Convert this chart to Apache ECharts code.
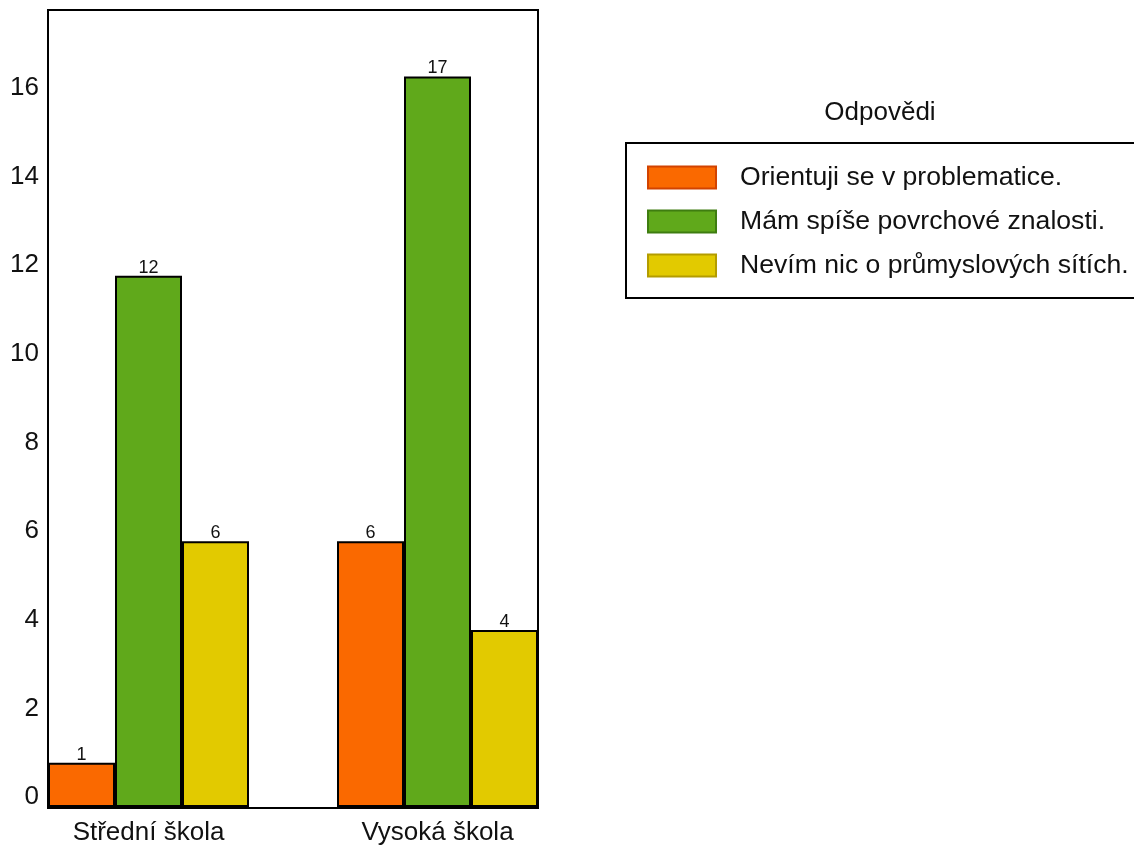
<!DOCTYPE html>
<html>
<head>
<meta charset="utf-8">
<script src="https://cdn.jsdelivr.net/npm/echarts@6/dist/echarts.min.js"></script>
<style>html,body{margin:0;padding:0;background:#fff}#c{width:1134px;height:846px}</style>
</head>
<body>
<div id="c"></div>
<script>
const categories = ['Střední škola', 'Vysoká škola'];
const seriesNames = ['Orientuji se v problematice.', 'Mám spíše povrchové znalosti.', 'Nevím nic o průmyslových sítích.'];
const orientuji = [1, 6];
const povrchove = [12, 16.5];
const nevim = [6, 4];
const orientujiLabels = ['1', '6'];
const povrchoveLabels = ['12', '17'];
const nevimLabels = ['6', '4'];
const legendTitle = 'Odpovědi';
const yMin = 0, yMax = 18, yStep = 2;

const colors = ['#FA6900', '#60A91B', '#E2CA00'];
const legendBorders = ['#D24300', '#3E7D10', '#B39C00'];
const FONT = '"Liberation Sans", Arial, sans-serif';

const valueSets = [orientuji, povrchove, nevim];
const labelSets = [orientujiLabels, povrchoveLabels, nevimLabels];

const chart = echarts.init(document.getElementById('c'), null, {renderer: 'canvas'});
chart.setOption({
  animation: false,
  backgroundColor: '#fff',
  textStyle: {fontFamily: FONT},
  title: {
    text: legendTitle, left: 880, top: 100, textAlign: 'center', padding: 0,
    textStyle: {fontSize: 26, fontWeight: 'normal', color: '#111', fontFamily: FONT}
  },
  legend: {
    orient: 'vertical', left: 626, top: 143,
    padding: [21, 40, 19, 21],
    borderColor: '#000', borderWidth: 2,
    itemWidth: 68, itemHeight: 22, itemGap: 17,
    icon: 'rect',
    textStyle: {fontSize: 26.6, color: '#111', lineHeight: 22, padding: [0, 0, 0, 19], fontFamily: FONT},
    data: seriesNames.map((n, i) => ({name: n, itemStyle: {color: colors[i], borderColor: legendBorders[i], borderWidth: 2}}))
  },
  grid: [
    {left: 4, width: 578, top: 10, height: 798, show: false},
    {left: 48, width: 490, top: 10, height: 798, show: true, borderColor: '#000', borderWidth: 2, backgroundColor: 'transparent'}
  ],
  xAxis: [
    {
      type: 'category', gridIndex: 0, data: categories,
      axisLine: {show: false}, axisTick: {show: false},
      axisLabel: {fontSize: 26, color: '#111', margin: 13, fontFamily: FONT}
    },
    {type: 'value', gridIndex: 1, show: false, min: 0, max: 1}
  ],
  yAxis: [
    {type: 'value', gridIndex: 0, min: yMin, max: yMax, interval: yStep, show: false},
    {
      type: 'value', gridIndex: 1, min: yMin, max: yMax, interval: yStep,
      axisLine: {show: true, lineStyle: {color: '#000', width: 2}},
      axisTick: {show: false}, splitLine: {show: false},
      axisLabel: {fontSize: 26, color: '#111', margin: 9, verticalAlign: 'bottom', lineHeight: 22, showMaxLabel: false, fontFamily: FONT}
    }
  ],
  series: seriesNames.map((n, i) => ({
    name: n, type: 'bar', xAxisIndex: 0, yAxisIndex: 0,
    data: valueSets[i], barWidth: 67, barGap: '0%',
    itemStyle: {color: colors[i], borderColor: '#000', borderWidth: 2},
    label: {
      show: true, position: 'top', distance: -1, fontSize: 18, color: '#111', fontFamily: FONT,
      formatter: p => labelSets[i][p.dataIndex]
    },
    emphasis: {disabled: true}
  }))
});
</script>
</body>
</html>
